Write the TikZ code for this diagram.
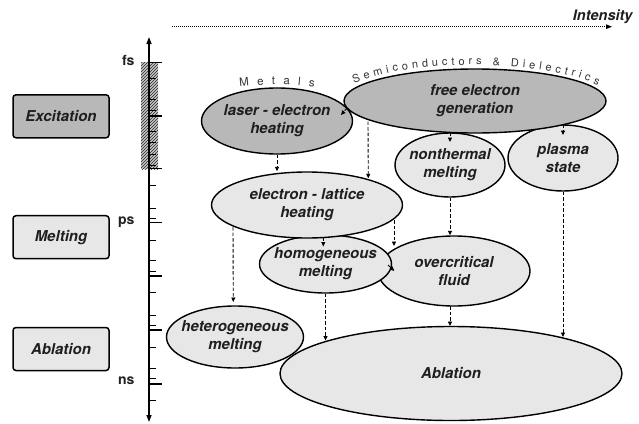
\documentclass[tikz,border=0pt]{standalone}
\usepackage{fontspec}
\newfontfamily\hv{TeX Gyre Heros}
\usetikzlibrary{shapes.geometric,arrows.meta,patterns,decorations.text,calc}
\definecolor{darkfill}{gray}{0.72}
\definecolor{lightfill}{gray}{0.905}
\newcommand\mk{\kern8.2pt}
\newcommand\sk{\kern3.9pt}
\begin{document}
\begin{tikzpicture}[x=1pt,y=-1pt,
  lbl/.style={font=\hv\bfseries\itshape\fontsize{15}{18}\selectfont, text=black!88, align=center},
  ell/.style={ellipse, draw, line width=1.4pt, inner xsep=-45pt, inner ysep=-20pt, lbl},
  stagebox/.style={rectangle, rounded corners=3pt, draw, line width=1.5pt, minimum width=96pt, minimum height=43pt, lbl},
  darkf/.style={fill=darkfill},
  lightf/.style={fill=lightfill},
  dasharr/.style={draw, line width=0.9pt, dash pattern=on 3.5pt off 2pt, -{Triangle[length=4.5pt,width=4pt]}},
  longtick/.style={line width=1.2pt},
  shorttick/.style={line width=1pt},
  timelbl/.style={font=\hv\bfseries\fontsize{14}{14}\selectfont, anchor=base east, text=black!88}
]
\useasboundingbox (0,0) rectangle (639,423);

% stage boxes
\node[stagebox, darkf] (exc) at (61,116.3) {Excitation};
\node[stagebox, lightf] (melt) at (61,237.2) {Melting};
\node[stagebox, lightf] (abla) at (61,349) {Ablation};

% time axis
\fill[black!22] (141,62) rectangle (158,169.3);
\fill[pattern=north east lines, pattern color=black!85] (141,62) rectangle (158,169.3);
\draw[line width=1.5pt, {Triangle[length=7pt,width=5pt]}-{Triangle[length=7pt,width=5pt]}] (149,422) -- (149,37);
\foreach \y in {62.7,116,168.3,222.7,276,330,384} \draw[longtick] (149,\y) -- (162,\y);
\foreach \y in {78.3,99.5,110,131,142,154,165,185,208,218,240,260.7,271.7,292.7,315,325,347.3,368.3,378.3,400} \draw[shorttick] (149,\y) -- (156,\y);
\node[timelbl] (fs) at (138,65) {fs};
\node[timelbl] (ps) at (138,224) {ps};
\node[timelbl] (ns) at (138,384) {ns};

% intensity
\coordinate (intS) at (172,26.7);
\coordinate (intE) at (612,26.7);
\draw[line width=1pt, dash pattern=on 1pt off 1pt, -{Triangle[length=6pt,width=4.5pt]}] (intS) -- (intE);
\node[lbl, font=\hv\bfseries\itshape\fontsize{14.5}{16}\selectfont, anchor=east] (int) at (636,16.5) {Intensity};

% ellipses
\node[ell, lightf, minimum width=342pt, minimum height=94pt] (A) at (451,373.5) {Ablation};
\node[ell, lightf, minimum width=137pt, minimum height=62pt] (T) at (235,337) {heterogeneous\\melting};
\node[ell, lightf, minimum width=152pt, minimum height=70pt] (O) at (454,271) {overcritical\\fluid};
\node[ell, lightf, minimum width=132pt, minimum height=58pt] (H) at (325.5,264) {homogeneous\\melting};
\node[ell, lightf, minimum width=191pt, minimum height=66pt] (E) at (307,205) {electron - lattice\\heating};
\node[ell, lightf, minimum width=110pt, minimum height=64pt] (N) at (450,165) {nonthermal\\melting};
\node[ell, lightf, minimum width=110pt, minimum height=66pt] (P) at (563,158) {plasma\\state};
\node[ell, darkf, minimum width=262pt, minimum height=64pt] (F) at (475,101) {free electron\\generation};
\node[ell, darkf, minimum width=151pt, minimum height=66pt] (L) at (277,121) {laser - electron\\heating};

% curved labels
\path[decorate, decoration={text along path, text align=center,
  text={|\hv\fontsize{11.5}{11.5}\selectfont\color{black!80}|{M\mk}{e\mk}{t\mk}{a\mk}{l\mk}{s}}}]
  (199.2,95.5) .. controls (242.1,81.4) and (311.9,81.4) .. (354.8,95.5);
\path[decorate, decoration={text along path, text align=center,
  text={|\hv\fontsize{11}{11}\selectfont\color{black!80}|{S\sk}{e\sk}{m\sk}{i\sk}{c\sk}{o\sk}{n\sk}{d\sk}{u\sk}{c\sk}{t\sk}{o\sk}{r\sk}{s\sk}{\ \sk}{\&\sk}{\ \sk}{D\sk}{i\sk}{e\sk}{l\sk}{e\sk}{c\sk}{t\sk}{r\sk}{i\sk}{c\sk}{s}}}]
  (343.2,89.5) .. controls (392.3,56.5) and (557.7,56.5) .. (608.8,91.5);

% connectors
\draw[dasharr] (L.south) -- (L.south |- E.north);
\draw[dasharr] ([shift={(-107,20.7)}]F.center) -- ([shift={(61.3,-26.7)}]E.center);
\draw[dasharr] ([shift={(-25,31.4)}]F.center) -- ([shift={(0,-23)}]N.center);
\draw[dasharr] ([shift={(88,23.7)}]F.center) -- ([shift={(0,-23)}]P.center);
\draw[dasharr] ([shift={(-128,7)}]F.center) -- ([shift={(64,-6)}]L.center);
\draw[dasharr] (N.south) -- (N.south |- O.north);
\draw[dasharr] (P.south) -- ([shift={(112,-36.5)}]A.center);
\draw[dasharr] ([shift={(-74,22)}]E.center) -- ([shift={(-1.7,-35)}]T.center);
\draw[dasharr] ([shift={(16.3,32.5)}]E.center) -- ([shift={(-2.2,-17.5)}]H.center);
\draw[dasharr] ([shift={(87,15)}]E.center) -- ([shift={(-60,-25)}]O.center);
\draw[dasharr] ([shift={(62.5,1)}]H.center) -- ([shift={(-59.7,0)}]O.center);
\draw[dasharr] (H.south) -- ([shift={(-125.5,-33)}]A.center);
\draw[dasharr] ([shift={(-4,35)}]O.center) -- ([shift={(-1,-47.5)}]A.center);
\end{tikzpicture}
\end{document}
